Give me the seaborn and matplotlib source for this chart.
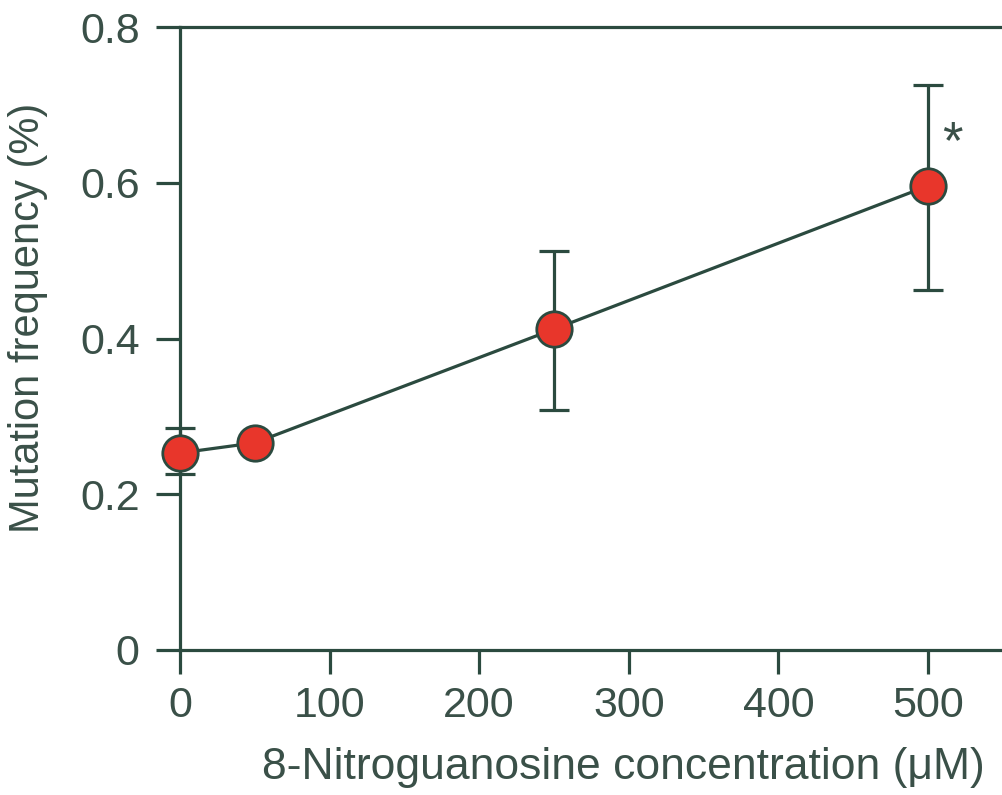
import matplotlib
matplotlib.use("Agg")
import matplotlib.pyplot as plt
import seaborn as sns
import pandas as pd

# ── Data ─────────────────────────────────────────────────────────
conc = [0, 50, 250, 500]
freq = [0.253, 0.266, 0.412, 0.596]
err_lo = [0.027, 0.0, 0.104, 0.134]
err_hi = [0.032, 0.0, 0.101, 0.130]
x_ticks = [0, 100, 200, 300, 400, 500]
y_ticks = [0, 0.2, 0.4, 0.6, 0.8]
y_labels = ["0", "0.2", "0.4", "0.6", "0.8"]

LINE = "#2b4a3f"
TEXT = "#3a5048"
RED = "#e8362b"

sns.set_style("white")
plt.rcParams["font.family"] = ["Liberation Sans Narrow", "Liberation Sans", "DejaVu Sans"]

df = pd.DataFrame({"conc": conc, "freq": freq})

fig = plt.figure(figsize=(10.02, 7.95), dpi=100)
ax = fig.add_axes([0.1796, 0.1824, 0.8204, 0.7836])

# ── Error bars (behind the markers) ──────────────────────────────
ax.errorbar(conc, freq, yerr=[err_lo, err_hi], fmt="none", ecolor=LINE,
            elinewidth=2.3, capsize=10.5, capthick=2.3, zorder=2, clip_on=False)

# ── Line + markers ───────────────────────────────────────────────
sns.lineplot(data=df, x="conc", y="freq", ax=ax, color=LINE, linewidth=2.3,
             marker="o", markersize=25.5, markerfacecolor=RED,
             markeredgecolor=LINE, markeredgewidth=2.0, zorder=3, clip_on=False)

ax.text(516, 0.650, "*", fontsize=38, color=TEXT, ha="center", va="center")

ax.set_xlim(0, 549.5)
ax.set_ylim(0, 0.8)
ax.set_xticks(x_ticks)
ax.set_yticks(y_ticks)
ax.set_yticklabels(y_labels)

for side in ["left", "bottom", "top"]:
    ax.spines[side].set_color(LINE)
    ax.spines[side].set_linewidth(2.3)
ax.spines["right"].set_visible(False)

ax.tick_params(axis="both", direction="out", length=17, width=2.3, color=LINE,
               labelsize=31, labelcolor=TEXT)
ax.tick_params(axis="x", pad=9, bottom=True)
ax.tick_params(axis="y", pad=12, left=True)

ax.set_xlabel("8-Nitroguanosine concentration (\u03bcM)", fontsize=32, color=TEXT)
ax.set_ylabel("Mutation frequency (%)", fontsize=30, color=TEXT)
ax.xaxis.set_label_coords(0.539, -0.155)
ax.yaxis.set_label_coords(-0.16, 0.533)

fig.savefig("out.png", dpi=100)
